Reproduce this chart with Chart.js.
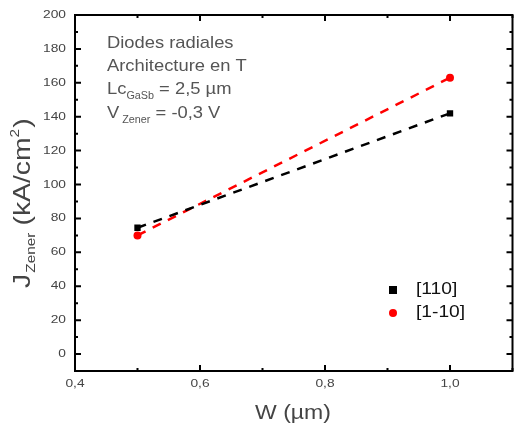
<!DOCTYPE html>
<html>
<head>
<meta charset="utf-8">
<script src="https://cdn.jsdelivr.net/npm/chart.js@4.4.0/dist/chart.umd.min.js"></script>
<style>
html,body{margin:0;padding:0;background:#fff;overflow:hidden;}
#wrap{width:514px;height:426px;position:relative;overflow:hidden;}
</style>
</head>
<body>
<div id="wrap"><canvas id="c" width="517" height="426"></canvas></div>
<script>
const widths = [0.5, 1.0];
const series110 = [74.5, 142];
const series1m10 = [70, 163];
const seriesNames = ['[110]', '[1-10]'];
const yTicks = [0, 20, 40, 60, 80, 100, 120, 140, 160, 180, 200];
const xTicks = [0.4, 0.6, 0.8, 1.0];
const annotationLines = ['Diodes radiales', 'Architecture en T'];

const FONT = '"Liberation Sans", Arial, sans-serif';

function stretchedText(ctx, text, x, y, sx, align) {
  const w = ctx.measureText(text).width * sx;
  let left = x;
  if (align === 'right') left = x - w;
  else if (align === 'center') left = x - w / 2;
  ctx.save();
  ctx.translate(left, y);
  ctx.scale(sx, 1);
  ctx.textAlign = 'left';
  ctx.fillText(text, 0, 0);
  ctx.restore();
  return w;
}

const framePlugin = {
  id: 'frame',
  afterDatasetsDraw(chart) {
    const ctx = chart.ctx;
    const a = chart.chartArea;
    const xs = chart.scales.x, ys = chart.scales.y;
    ctx.save();
    ctx.strokeStyle = '#000';
    ctx.lineWidth = 2;
    ctx.strokeRect(a.left, a.top, a.right - a.left, a.bottom - a.top);
    for (let i = 4; i <= 11; i++) {
      const vv = i / 10;
      const px = xs.getPixelForValue(vv);
      const len = (i % 2 === 0) ? 6 : 3;
      ctx.beginPath();
      ctx.moveTo(px, a.bottom); ctx.lineTo(px, a.bottom - len);
      ctx.moveTo(px, a.top); ctx.lineTo(px, a.top + len);
      ctx.stroke();
    }
    for (let v = 0; v <= 200; v += 10) {
      const py = ys.getPixelForValue(v);
      const len = (v % 20 === 0) ? 6 : 3;
      ctx.beginPath();
      ctx.moveTo(a.left, py); ctx.lineTo(a.left + len, py);
      ctx.moveTo(a.right, py); ctx.lineTo(a.right - len, py);
      ctx.stroke();
    }
    ctx.fillStyle = '#444';
    ctx.font = '11px ' + FONT;
    ctx.textBaseline = 'middle';
    yTicks.forEach(v => {
      stretchedText(ctx, String(v), 66, ys.getPixelForValue(v), 1.25, 'right');
    });
    xTicks.forEach(v => {
      stretchedText(ctx, v.toFixed(1).replace('.', ','), xs.getPixelForValue(v), a.bottom + 13, 1.25, 'center');
    });
    ctx.restore();
  },
  afterDraw(chart) {
    const ctx = chart.ctx;
    ctx.save();
    ctx.fillStyle = '#555';
    ctx.textBaseline = 'alphabetic';
    const x0 = 107, sa = 1.08;
    ctx.font = '17px ' + FONT;
    stretchedText(ctx, annotationLines[0], x0, 48, sa, 'left');
    stretchedText(ctx, annotationLines[1], x0, 71, sa, 'left');
    let x = x0;
    x += stretchedText(ctx, 'Lc', x, 94, sa, 'left');
    ctx.font = '10px ' + FONT;
    x += stretchedText(ctx, 'GaSb', x, 99, sa, 'left');
    ctx.font = '17px ' + FONT;
    stretchedText(ctx, ' = 2,5 µm', x, 94, sa, 'left');
    x = x0;
    x += stretchedText(ctx, 'V', x, 118, sa, 'left') + 3;
    ctx.font = '10px ' + FONT;
    x += stretchedText(ctx, 'Zener', x, 123, sa, 'left');
    ctx.font = '17px ' + FONT;
    stretchedText(ctx, ' = -0,3 V', x, 118, sa, 'left');

    ctx.fillStyle = '#000';
    ctx.fillRect(389, 286, 8, 8);
    ctx.fillStyle = '#ff0000';
    ctx.beginPath(); ctx.arc(393, 313, 4, 0, Math.PI * 2); ctx.fill();
    ctx.fillStyle = '#111';
    ctx.font = '16px ' + FONT;
    ctx.textBaseline = 'middle';
    stretchedText(ctx, seriesNames[0], 416, 290, 1.2, 'left');
    stretchedText(ctx, seriesNames[1], 416, 313, 1.2, 'left');

    ctx.fillStyle = '#444';
    ctx.font = '20px ' + FONT;
    ctx.textBaseline = 'alphabetic';
    stretchedText(ctx, 'W (µm)', 293, 419, 1.15, 'center');

    ctx.save();
    ctx.fillStyle = '#444';
    ctx.translate(30, 288);
    ctx.rotate(-Math.PI / 2);
    ctx.scale(1.18, 1);
    ctx.textAlign = 'left';
    let t = 0;
    ctx.font = '24px ' + FONT;
    ctx.fillText('J', t, 0); t += ctx.measureText('J').width + 1;
    ctx.font = '13px ' + FONT;
    ctx.fillText('Zener', t, 5); t += ctx.measureText('Zener').width + 6;
    ctx.font = '24px ' + FONT;
    ctx.fillText('(kA/cm', t, 0); t += ctx.measureText('(kA/cm').width;
    ctx.font = '13px ' + FONT;
    ctx.fillText('2', t, -11); t += ctx.measureText('2').width + 1;
    ctx.font = '24px ' + FONT;
    ctx.fillText(')', t, 0);
    ctx.restore();
    ctx.restore();
  }
};

new Chart(document.getElementById('c'), {
  type: 'scatter',
  data: {
    datasets: [
      {
        label: seriesNames[0],
        data: widths.map((w, i) => ({x: w, y: series110[i]})),
        showLine: true,
        borderColor: '#000',
        backgroundColor: '#000',
        borderWidth: 2.5,
        borderDash: [9, 8],
        pointStyle: 'rect',
        pointRadius: 4.5,
        pointBorderWidth: 0
      },
      {
        label: seriesNames[1],
        data: widths.map((w, i) => ({x: w, y: series1m10[i]})),
        showLine: true,
        borderColor: '#ff0000',
        backgroundColor: '#ff0000',
        borderWidth: 2.5,
        borderDash: [9, 8],
        pointStyle: 'circle',
        pointRadius: 4,
        pointBorderWidth: 0
      }
    ]
  },
  options: {
    responsive: false,
    animation: false,
    devicePixelRatio: 1,
    layout: {padding: {top: 15, right: 0, left: 0, bottom: 0}},
    plugins: {legend: {display: false}, tooltip: {enabled: false}},
    scales: {
      x: {
        type: 'linear',
        min: 0.4,
        max: 1.1,
        grid: {display: false, drawTicks: false},
        border: {display: false},
        afterFit(s) { s.height = 55; },
        ticks: {display: false}
      },
      y: {
        type: 'linear',
        min: -10,
        max: 200,
        grid: {display: false, drawTicks: false},
        border: {display: false},
        afterFit(s) { s.width = 75; },
        ticks: {display: false}
      }
    }
  },
  plugins: [framePlugin]
});
</script>
</body>
</html>
